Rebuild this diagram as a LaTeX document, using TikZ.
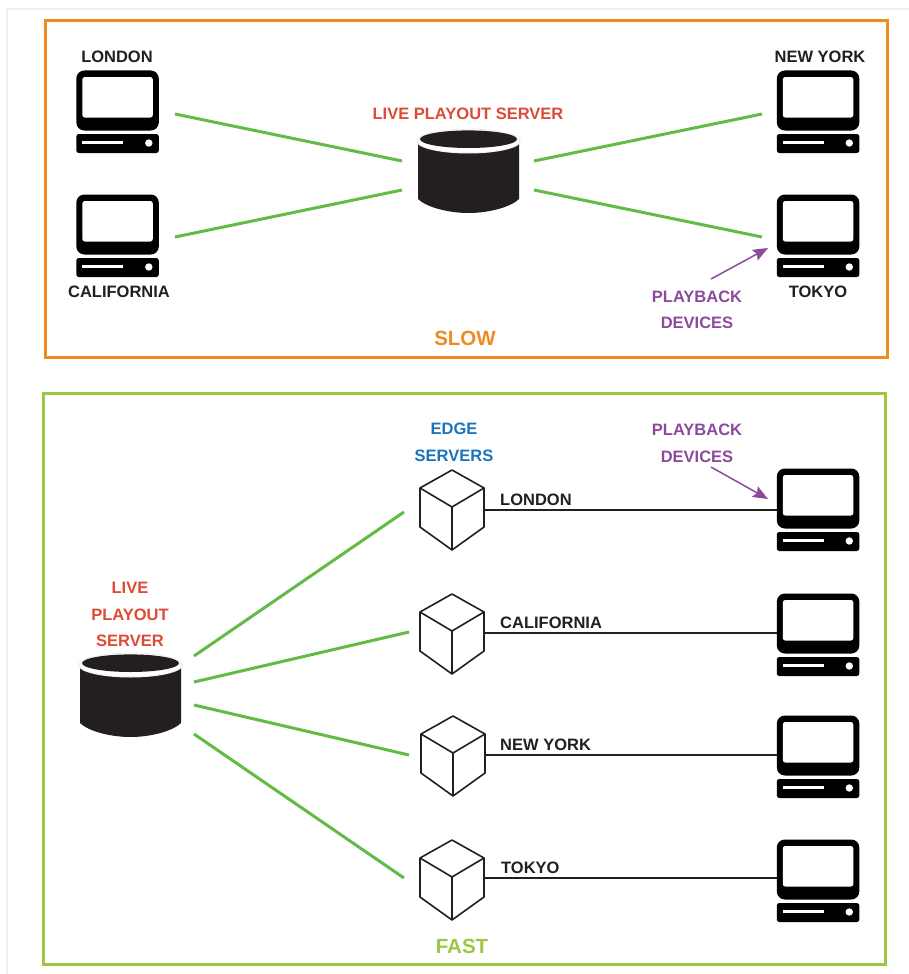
\documentclass[tikz,border=0pt]{standalone}
\usepackage{fontspec}
\setmainfont{Liberation Sans}
\usetikzlibrary{arrows.meta}
\definecolor{ink}{HTML}{231F20}
\definecolor{orangeframe}{HTML}{EE8B23}
\definecolor{greenframe}{HTML}{9CC644}
\definecolor{linkgreen}{HTML}{62BB46}
\definecolor{redlabel}{HTML}{DD4B36}
\definecolor{purplelabel}{HTML}{8C4A9C}
\definecolor{bluelabel}{HTML}{1B75BB}
\tikzset{
  x=1pt,y=-1pt,
  lab/.style={font=\bfseries\fontsize{16.5}{16.5}\selectfont,text=ink,inner sep=0pt,anchor=center,yshift=-0.8pt},
  biglab/.style={lab,font=\bfseries\fontsize{20.5}{20.5}\selectfont},
  redlab/.style={lab,text=redlabel},
  purplelab/.style={lab,text=purplelabel},
  bluelab/.style={lab,text=bluelabel},
  link/.style={draw=linkgreen,line width=3pt},
  wire/.style={draw=ink,line width=1.3pt},
  pointer/.style={draw=purplelabel,line width=1.5pt,-{Stealth[length=15pt,width=12pt,inset=2.5pt]}},
  cubeedge/.style={draw=ink,line width=1.6pt,line join=round},
  slot/.style={minimum width=0pt,minimum height=0pt,inner sep=0pt},
}
% computer with its top-left corner at (#2,#3)
\newcommand{\computerpic}[3]{%
  \begin{scope}[shift={(#2,#3)}]
    \fill[black,rounded corners=8pt] (0,0) rectangle (82.5,60);
    \fill[white,rounded corners=2.5pt] (6,6.5) rectangle (76.5,47);
    \fill[black,rounded corners=2.5pt] (0,63.5) rectangle (82.5,82.5);
    \fill[white] (6,70) rectangle (47,73);
    \fill[white] (72.5,72.5) circle (3.7);
    \node[slot,minimum width=82.5pt,minimum height=82.5pt] (#1) at (41.25,41.25) {};
  \end{scope}}
% cylinder whose top ellipse is centred on the height #3, left side at #2
\newcommand{\serverpic}[3]{%
  \begin{scope}[shift={(#2,#3)}]
    \fill[ink] (0,0) -- (0,58) .. controls (8,66) and (30,72) .. (50.5,72) .. controls (71,72) and (93,66) .. (101,58) -- (101,0) -- cycle;
    \fill[black!6] (50.5,0) ellipse [x radius=52.5,y radius=12.5];
    \fill[white] (50.5,0) ellipse [x radius=50.5,y radius=11.5];
    \fill[ink] (50.5,-1.8) ellipse [x radius=48.5,y radius=8.8];
    \node[slot,minimum width=101pt,minimum height=84pt] (#1) at (50.5,30) {};
  \end{scope}}
% cube with its top vertex at (#2,#3)
\newcommand{\cubepic}[3]{%
  \begin{scope}[shift={(#2,#3)}]
    \draw[cubeedge] (0,0) -- (32,18) -- (32,57) -- (0,80) -- (-32,57) -- (-32,18) -- cycle;
    \draw[cubeedge] (-32,18) -- (0,37) -- (32,18) (0,37) -- (0,80);
    \node[slot,minimum width=64pt,minimum height=80pt] (#1) at (0,40) {};
  \end{scope}}
\begin{document}
\begin{tikzpicture}
\useasboundingbox (0,0) rectangle (909,974);
\fill[white] (0,0) rectangle (909,974);
\draw[draw=black!6,line width=2pt] (7,974) -- (7,9) -- (909,9);
\draw[orangeframe,line width=3pt] (45,21) rectangle (887,357);
\draw[greenframe,line width=3pt] (43,393) rectangle (885,964);

% top panel
\computerpic{tl}{76.3}{70.5}
\computerpic{bl}{76.3}{194.5}
\computerpic{tr}{776.8}{70.5}
\computerpic{br}{776.8}{194.5}
\serverpic{srv}{418}{141}
\node[lab] (lLondon) at (117,56) {LONDON};
\node[lab] (lCal) at (119,291) {CALIFORNIA};
\node[lab] (lNY) at (820,56) {NEW YORK};
\node[lab] (lTokyo) at (818,291) {TOKYO};
\node[redlab] (lSrv) at (468,113) {LIVE PLAYOUT SERVER};
\node[purplelab] (lPb1) at (697,296) {PLAYBACK};
\node[purplelab] (lPb2) at (697,322) {DEVICES};
\node[biglab,text=orangeframe] (lSlow) at (465,338) {SLOW};
\coordinate (a1) at (175,114); \coordinate (a2) at (402,161);
\coordinate (b1) at (175,237); \coordinate (b2) at (402,190);
\coordinate (c1) at (534,161); \coordinate (c2) at (762,114);
\coordinate (d1) at (534,190); \coordinate (d2) at (762,237);
\draw[link] (a1) -- (a2);
\draw[link] (b1) -- (b2);
\draw[link] (c1) -- (c2);
\draw[link] (d1) -- (d2);
\coordinate (p1) at (711,279); \coordinate (p2) at (768,248);
\draw[pointer] (p1) -- (p2);

% bottom panel
\serverpic{srvb}{80}{665}
\node[redlab] (lL1) at (130,587) {LIVE};
\node[redlab] (lL2) at (130,614) {PLAYOUT};
\node[redlab] (lL3) at (130,640) {SERVER};
\node[bluelab] (lE1) at (454,428) {EDGE};
\node[bluelab] (lE2) at (454,455) {SERVERS};
\node[purplelab] (lPc1) at (697,429) {PLAYBACK};
\node[purplelab] (lPc2) at (697,456) {DEVICES};
\node[biglab,text=greenframe] (lFast) at (462,946) {FAST};
\cubepic{c1b}{452}{470}
\cubepic{c2b}{452}{594}
\cubepic{c3b}{453}{716}
\cubepic{c4b}{452}{840}
\computerpic{p1b}{776.8}{468.5}
\computerpic{p2b}{776.8}{593.5}
\computerpic{p3b}{776.8}{715.5}
\computerpic{p4b}{776.8}{839.5}
\node[lab,anchor=west] (n1) at (500,499) {LONDON};
\node[lab,anchor=west] (n2) at (500,622) {CALIFORNIA};
\node[lab,anchor=west] (n3) at (500,744) {NEW YORK};
\node[lab,anchor=west] (n4) at (501,867) {TOKYO};
\coordinate (e1) at (194,656); \coordinate (f1) at (404,512);
\coordinate (e2) at (194,682); \coordinate (f2) at (409,632);
\coordinate (e3) at (194,705); \coordinate (f3) at (409,755);
\coordinate (e4) at (194,734); \coordinate (f4) at (404,878);
\draw[link] (e1) -- (f1);
\draw[link] (e2) -- (f2);
\draw[link] (e3) -- (f3);
\draw[link] (e4) -- (f4);
\draw[wire] (c1b.east |- 0,510) -- (p1b.west |- 0,510);
\draw[wire] (c2b.east |- 0,633) -- (p2b.west |- 0,633);
\draw[wire] (c3b.east |- 0,755) -- (p3b.west |- 0,755);
\draw[wire] (c4b.east |- 0,878) -- (p4b.west |- 0,878);
\coordinate (q1) at (711,467); \coordinate (q2) at (768,499);
\draw[pointer] (q1) -- (q2);
\end{tikzpicture}
\end{document}
